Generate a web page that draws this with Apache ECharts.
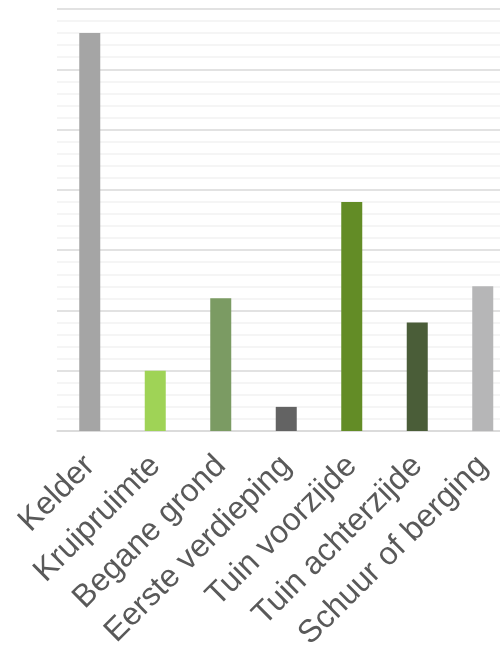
<!DOCTYPE html>
<html>
<head>
<meta charset="utf-8">
<script src="https://cdn.jsdelivr.net/npm/echarts@6/dist/echarts.min.js"></script>
<style>
  html, body { margin: 0; padding: 0; background: #ffffff; overflow: hidden; }
  #chart { width: 520px; height: 647px; }
</style>
</head>
<body>
<div id="chart"></div>
<script>
// Locations in and around the house
const categories = ['Kelder', 'Kruipruimte', 'Begane grond', 'Eerste verdieping', 'Tuin voorzijde', 'Tuin achterzijde', 'Schuur of berging'];
const values = [33, 5, 11, 2, 19, 9, 12];
const barColors = ['#a5a5a5', '#9fd356', '#7b9b63', '#636363', '#638c26', '#4a5d38', '#b6b6b7'];

const chart = echarts.init(document.getElementById('chart'), null, { renderer: 'canvas' });

chart.setOption({
  animation: false,
  backgroundColor: '#ffffff',
  grid: { left: 57, top: 9, right: 4.5, bottom: 216, containLabel: false, outerBoundsMode: 'none' },
  xAxis: {
    type: 'category',
    data: categories,
    axisLine: { show: true, lineStyle: { color: '#d9d9d9', width: 1.5 } },
    axisTick: { show: false },
    axisLabel: {
      rotate: 45,
      interval: 0,
      margin: 30,
      color: '#595959',
      fontFamily: 'Liberation Sans, Arial, sans-serif',
      fontSize: 32
    }
  },
  yAxis: {
    type: 'value',
    min: 0,
    max: 35,
    interval: 5,
    axisLine: { show: false },
    axisTick: { show: false },
    axisLabel: { show: false },
    splitLine: { show: true, lineStyle: { color: '#d9d9d9', width: 1.5 } },
    minorTick: { show: false, splitNumber: 5 },
    minorSplitLine: { show: true, lineStyle: { color: '#f2f2f2', width: 1.5 } }
  },
  series: [{
    type: 'bar',
    data: values.map((v, i) => ({ value: v, itemStyle: { color: barColors[i] } })),
    barWidth: 21
  }]
});
</script>
</body>
</html>
